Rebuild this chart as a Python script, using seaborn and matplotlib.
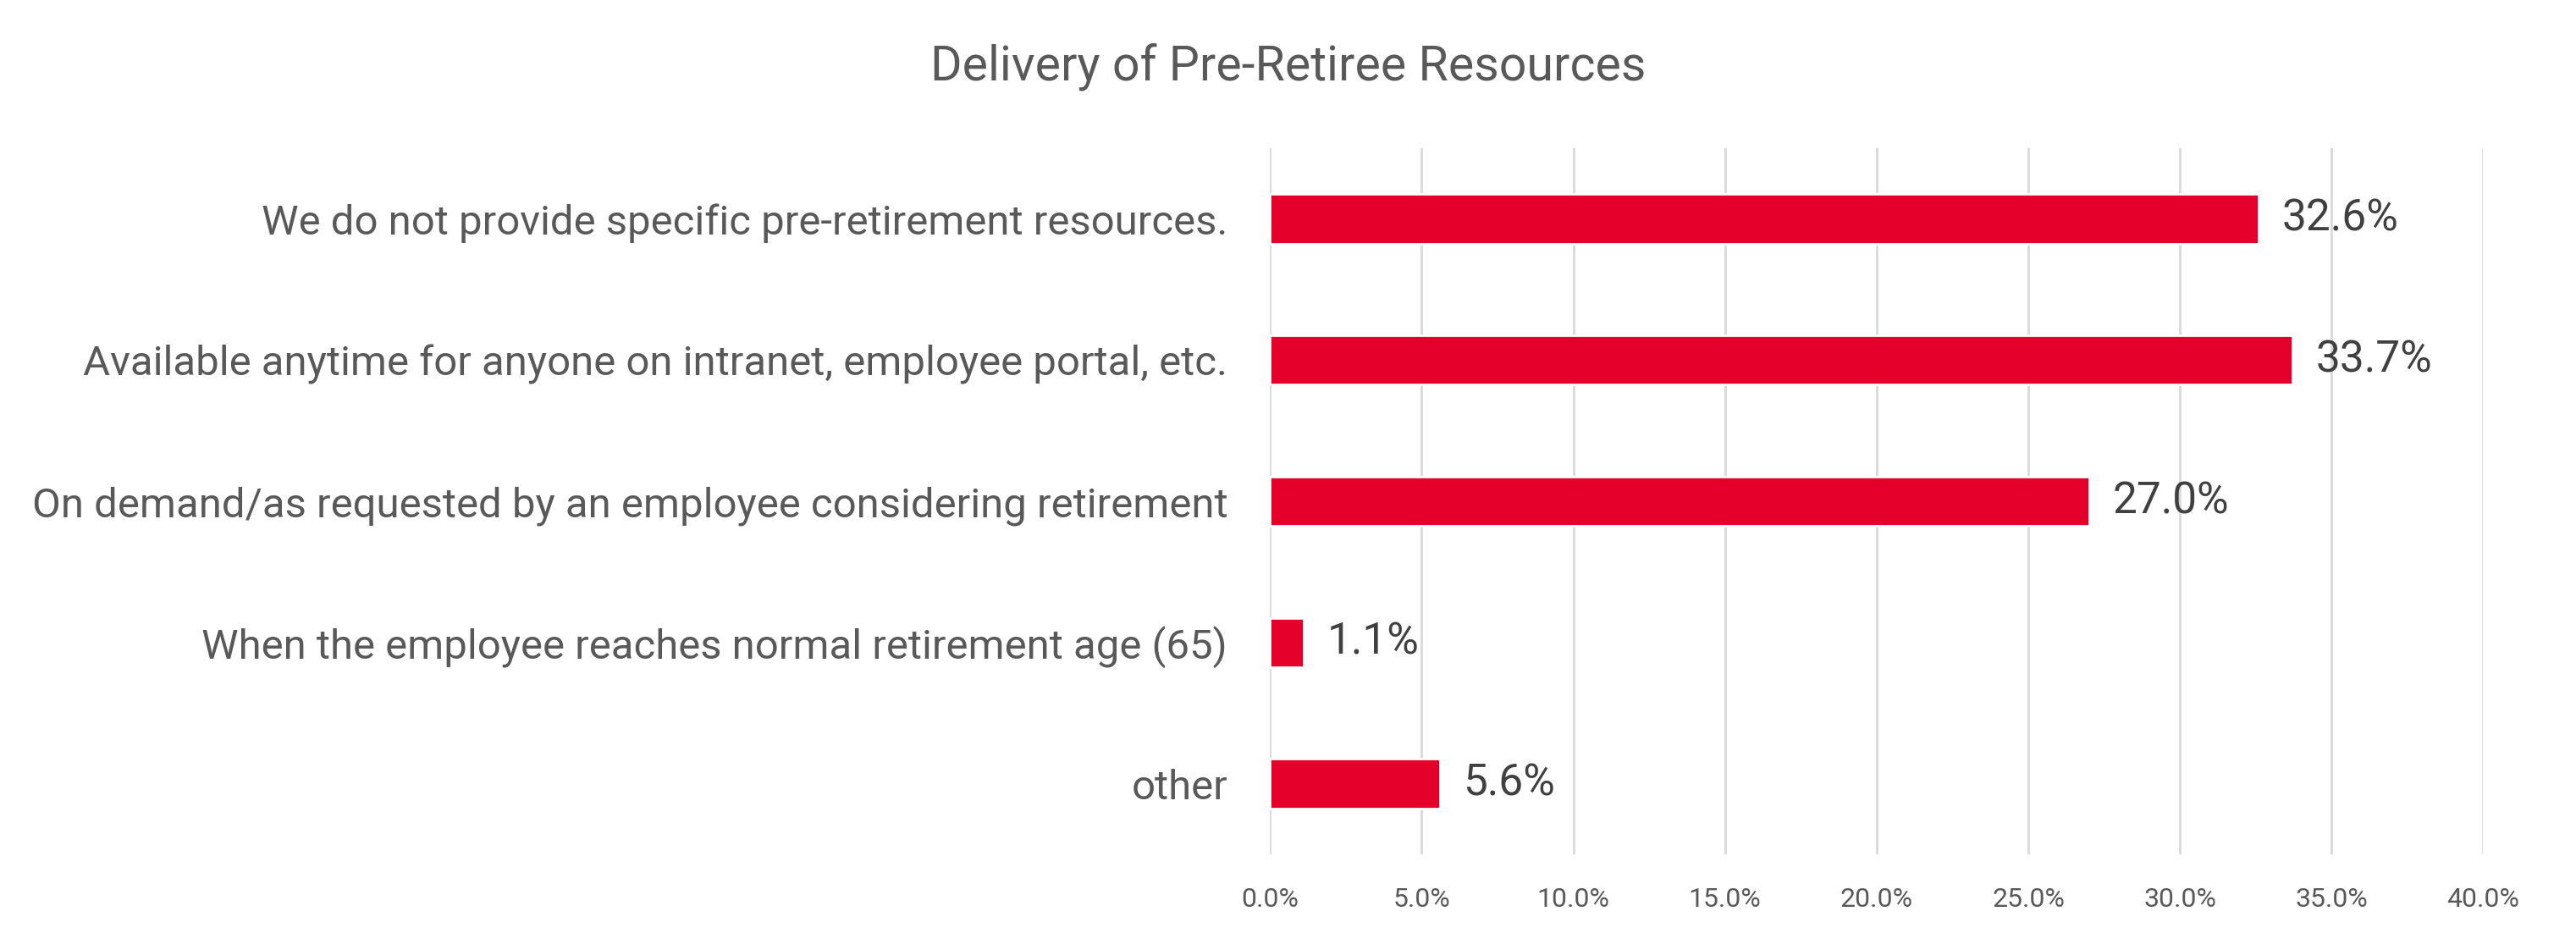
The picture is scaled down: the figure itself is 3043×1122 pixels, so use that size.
import matplotlib
matplotlib.use("Agg")
import matplotlib.pyplot as plt
import seaborn as sns
import pandas as pd
from matplotlib.ticker import PercentFormatter

categories = [
    "We do not provide specific pre-retirement resources.",
    "Available anytime for anyone on intranet, employee portal, etc.",
    "On demand/as requested by an employee considering retirement",
    "When the employee reaches normal retirement age (65)",
    "other",
]
values = [32.6, 33.7, 27.0, 1.1, 5.6]
x_ticks = [0, 5, 10, 15, 20, 25, 30, 35, 40]

df = pd.DataFrame({"category": categories, "share": values})

sns.set_style("white")
plt.rcParams["font.family"] = ["Roboto", "DejaVu Sans"]

fig = plt.figure(figsize=(3043 / 200, 1122 / 200), dpi=200)
ax = fig.add_axes([0.493, 0.1007, 0.471, 0.7433])

sns.barplot(data=df, y="category", x="share", color="#E4002B", width=0.35,
            saturation=1, ax=ax, zorder=3)

ax.set_xlim(0, 40)
ax.set_xticks(x_ticks)
ax.xaxis.set_major_formatter(PercentFormatter(decimals=1))
ax.grid(axis="x", color="#d9d9d9", linewidth=1.0, zorder=0)
ax.set_axisbelow(True)
for s in ax.spines.values():
    s.set_visible(False)
ax.set_xlabel("")
ax.set_ylabel("")
ax.tick_params(axis="x", length=0, pad=14, labelsize=11.5, labelcolor="#595959")
ax.tick_params(axis="y", length=0, pad=18, labelsize=17.7, labelcolor="#595959")

for c in ax.containers:
    ax.bar_label(c, labels=[f"{v:.1f}%" for v in values], padding=10,
                 fontsize=18.5, color="#404040")

fig.suptitle("Delivery of Pre-Retiree Resources", x=0.5, y=0.955,
             fontsize=20.6, color="#595959")

fig.savefig("out.png", dpi=200, facecolor="white")
